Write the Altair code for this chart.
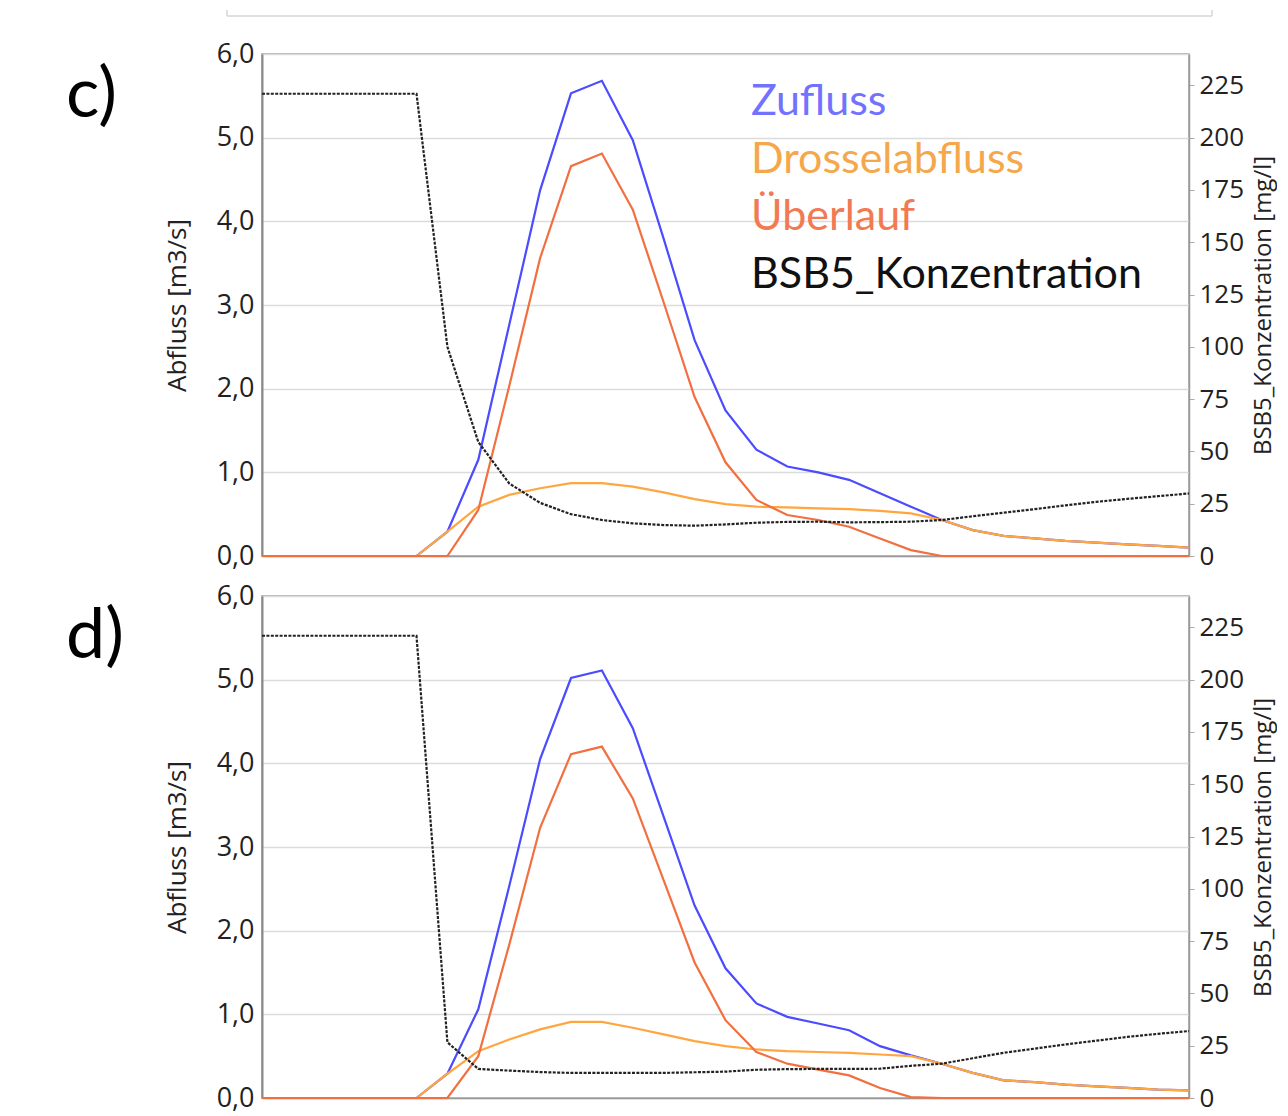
import altair as alt
import pandas as pd

# time steps (no labels visible on the x axis)
steps = [i for i in range(31)]

# panel c)
zufluss_c = [0, 0, 0, 0, 0, 0, 0.29, 1.15, 2.76, 4.37, 5.53, 5.68, 4.97, 3.79, 2.58, 1.74,
             1.27, 1.07, 1.00, 0.91, 0.75, 0.59, 0.43, 0.31, 0.24, 0.21, 0.18, 0.16, 0.14, 0.12, 0.10]
drossel_c = [0, 0, 0, 0, 0, 0, 0.29, 0.59, 0.73, 0.81, 0.87, 0.87, 0.83, 0.76, 0.68, 0.62,
             0.59, 0.58, 0.57, 0.56, 0.54, 0.51, 0.43, 0.31, 0.24, 0.21, 0.18, 0.16, 0.14, 0.12, 0.10]
ueberlauf_c = [0, 0, 0, 0, 0, 0, 0, 0.55, 2.03, 3.56, 4.66, 4.81, 4.14, 3.03, 1.90, 1.12,
               0.67, 0.49, 0.43, 0.35, 0.21, 0.07, 0, 0, 0, 0, 0, 0, 0, 0, 0]
bsb_c = [221, 221, 221, 221, 221, 221, 100, 54.5, 34.7, 25.4, 20.0, 17.2, 15.6, 14.8, 14.5, 15.1,
         15.9, 16.3, 16.4, 16.1, 16.2, 16.4, 17.2, 19.0, 20.7, 22.4, 24.2, 25.9, 27.3, 28.6, 29.9]

# panel d)
zufluss_d = [0, 0, 0, 0, 0, 0, 0.29, 1.06, 2.53, 4.05, 5.02, 5.11, 4.42, 3.36, 2.30, 1.55,
             1.13, 0.97, 0.89, 0.81, 0.62, 0.51, 0.41, 0.30, 0.21, 0.19, 0.16, 0.14, 0.12, 0.10, 0.09]
drossel_d = [0, 0, 0, 0, 0, 0, 0.29, 0.56, 0.70, 0.82, 0.91, 0.91, 0.84, 0.76, 0.68, 0.62,
             0.58, 0.56, 0.55, 0.54, 0.52, 0.50, 0.41, 0.30, 0.21, 0.19, 0.16, 0.14, 0.12, 0.10, 0.09]
ueberlauf_d = [0, 0, 0, 0, 0, 0, 0, 0.50, 1.83, 3.23, 4.11, 4.20, 3.58, 2.60, 1.62, 0.93,
               0.55, 0.41, 0.34, 0.27, 0.12, 0.01, 0, 0, 0, 0, 0, 0, 0, 0, 0]
bsb_d = [221, 221, 221, 221, 221, 221, 26.6, 13.9, 13.1, 12.4, 12.0, 12.0, 12.0, 12.0, 12.3, 12.6,
         13.5, 13.8, 13.9, 13.9, 14.0, 15.4, 16.4, 19.0, 21.6, 23.6, 25.6, 27.4, 29.2, 30.7, 32.0]

series_names = ["Zufluss", "Drosselabfluss", "Überlauf", "BSB5_Konzentration"]
legend_colors = ["#7272ff", "#f5a74c", "#f27a52", "#111111"]
line_colors = ["#4b4bff", "#ffa640", "#f26f40", "#222222"]

left_ticks = [0, 1, 2, 3, 4, 5, 6]
right_ticks = [0, 25, 50, 75, 100, 125, 150, 175, 200, 225]

W, H = 927, 502
FONT = "Open Sans"
LEGEND_FONT = "Lato"


def panel(zu, dr, ue, bsb, label, label_y, with_legend, with_box):
    df = pd.DataFrame({"t": steps, "zu": zu, "dr": dr, "ue": ue, "bsb": bsb})
    base = alt.Chart(df)
    xenc = alt.X("t:Q", scale=alt.Scale(domain=[0, 30], nice=False, zero=False),
                 axis=alt.Axis(labels=False, ticks=False, grid=False, title=None,
                               domainColor="#9a9a9a", domainWidth=1.5))
    yaxis = alt.Axis(values=left_ticks, title="Abfluss [m3/s]", orient="left",
                     labelExpr="replace(format(datum.value, '.1f'), '.', ',')",
                     labelFont=FONT, labelFontSize=27, labelColor="#222",
                     labelPadding=8, tickSize=0, titleFont=FONT, titleFontSize=26,
                     titleFontWeight="normal", titleColor="#222", titlePadding=26,
                     grid=True, gridColor="#dcdcdc", gridWidth=1.5,
                     domainColor="#8a8a8a", domainWidth=2)
    yscale = alt.Scale(domain=[0, 6], nice=False)

    def ln(field, color, width=2.2):
        return base.mark_line(color=color, strokeWidth=width).encode(
            x=xenc, y=alt.Y(f"{field}:Q", scale=yscale, axis=yaxis))

    left = alt.layer(ln("zu", line_colors[0]), ln("dr", line_colors[1]),
                     ln("ue", line_colors[2]))

    bsb_line = base.mark_line(color=line_colors[3], strokeWidth=2.2,
                              strokeDash=[3, 1.4]).encode(
        x=xenc,
        y=alt.Y("bsb:Q", scale=alt.Scale(domain=[0, 240], nice=False),
                axis=alt.Axis(values=right_ticks, orient="right",
                              title="BSB5_Konzentration [mg/l]",
                              labelFont=FONT, labelFontSize=26, labelColor="#222",
                              labelPadding=5, tickSize=5, tickColor="#aaaaaa",
                              titleFont=FONT, titleFontSize=24, titleFontWeight="normal",
                              titleColor="#222", titlePadding=8, titleAngle=270,
                              titleBaseline="top", grid=False,
                              domainColor="#9a9a9a", domainWidth=1.5)))

    lab = alt.Chart(pd.DataFrame({"lab": [label]})).mark_text(
        font=LEGEND_FONT, fontSize=70, align="left", baseline="alphabetic",
        color="#000").encode(x=alt.value(-196), y=alt.value(label_y), text="lab:N")

    layers = [left, bsb_line, lab]

    if with_legend:
        ldf = pd.DataFrame({"name": series_names, "col": legend_colors,
                            "i": [0, 1, 2, 3]})
        legend = alt.Chart(ldf).transform_calculate(
            py="61 + datum.i * 57.7").mark_text(
            font=LEGEND_FONT, fontSize=43, align="left", baseline="alphabetic").encode(
            x=alt.value(489), y=alt.Y("py:Q", scale=None),
            text="name:N", color=alt.Color("col:N", scale=None))
        layers.append(legend)

    if with_box:
        one = pd.DataFrame({"a": [0]})
        rl = alt.Chart(one).mark_rule(color="#d6d6d6", strokeWidth=1.5)
        box_l = rl.encode(x=alt.value(-35), y=alt.value(-44), y2=alt.value(-38))
        box_r = rl.encode(x=alt.value(950), y=alt.value(-44), y2=alt.value(-38))
        box_b = rl.encode(x=alt.value(-35), x2=alt.value(950), y=alt.value(-38))
        layers = [box_l, box_r, box_b] + layers

    return alt.layer(*layers).resolve_scale(y="independent").properties(
        width=W, height=H)


pc = panel(zufluss_c, drossel_c, ueberlauf_c, bsb_c, "c)", 63, True, True)
pd_ = panel(zufluss_d, drossel_d, ueberlauf_d, bsb_d, "d)", 62, False, False)

chart = alt.vconcat(pc, pd_, spacing=40, bounds="flush").properties(
    padding={"left": 57, "top": 0, "right": 0, "bottom": 0},
    background="white",
).configure_view(stroke="#9a9a9a", strokeWidth=1.5)

chart.save("out.html", embed_options={"renderer": "svg", "actions": False})
